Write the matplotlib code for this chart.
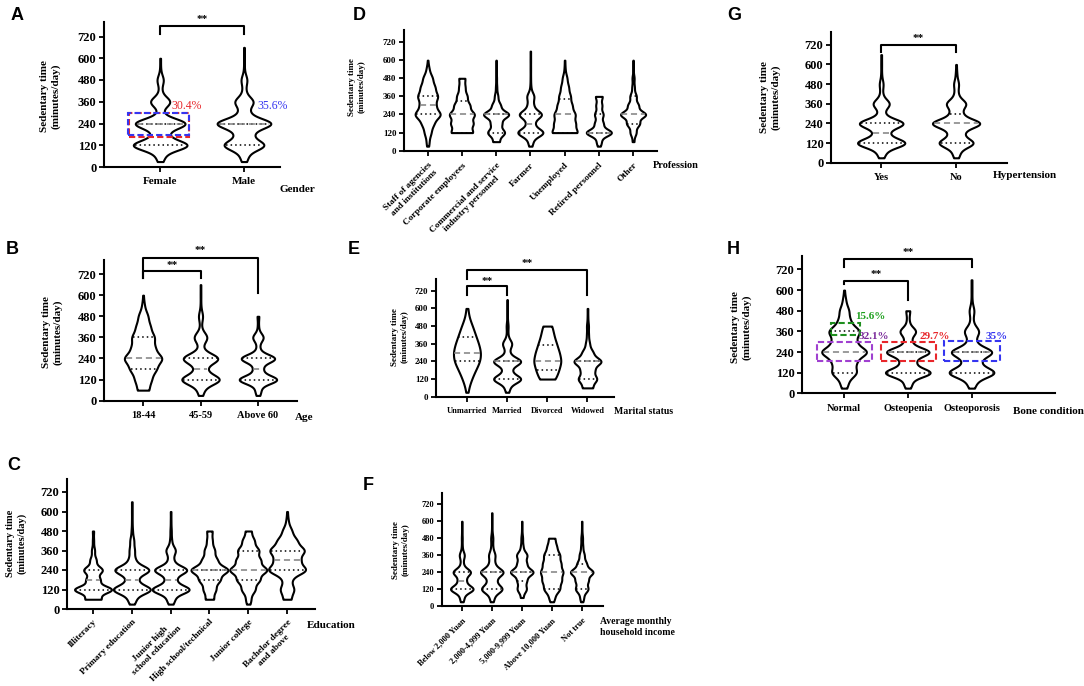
import matplotlib
matplotlib.use("Agg")
import matplotlib.pyplot as plt
import numpy as np
from matplotlib.patches import Rectangle

plt.rcParams['font.family'] = ['Liberation Serif', 'DejaVu Serif']
plt.rcParams['font.weight'] = 'bold'

W, H = 1084, 686

# sedentary-time answers (minutes/day) and how many people gave each one
VALS = [30, 60, 120, 180, 240, 300, 360, 420, 480, 540, 600, 660]
YTICKS = [0, 120, 240, 360, 480, 600, 720]

gender_cats = ['Female', 'Male']
gender_counts = [[3, 8, 70, 15, 65, 4, 25, 3, 8, 1, 1, 0],
                 [3, 8, 55, 20, 75, 12, 25, 4, 8, 1, 1, 1]]
gender_quart = [(120, 240, 240), (120, 240, 240)]

age_cats = ['18-44', '45-59', 'Above 60']
age_counts = [[0, 18, 25, 40, 60, 35, 35, 22, 15, 4, 1, 0],
              [3, 8, 65, 15, 60, 5, 22, 2, 7, 1, 1, 1],
              [3, 8, 65, 15, 58, 5, 18, 2, 3, 0, 0, 0]]
age_quart = [(180, 240, 360), (120, 180, 240), (120, 180, 240)]

edu_cats = ['Illiteracy', 'Primary education', 'Junior high\nschool education',
            'High school/technical', 'Junior college', 'Bachelor degree\nand above']
edu_counts = [[0, 25, 60, 22, 30, 10, 5, 2, 2, 0, 0, 0],
              [3, 10, 60, 15, 55, 10, 8, 6, 2, 1, 1, 1],
              [3, 10, 60, 15, 52, 8, 15, 3, 2, 1, 1, 0],
              [0, 12, 18, 30, 55, 22, 15, 8, 8, 0, 0, 0],
              [2, 6, 18, 30, 50, 32, 28, 16, 8, 0, 0, 0],
              [0, 10, 18, 10, 50, 32, 45, 25, 12, 3, 1, 0]]
edu_quart = [(120, 180, 240), (120, 180, 240), (120, 180, 240),
             (180, 240, 240), (180, 240, 360), (240, 300, 360)]

prof_cats = ['Staff of agencies\nand institutions', 'Corporate employees',
             'Commercial and service\nindustry personnel', 'Farmer', 'Unemployed',
             'Retired personnel', 'Other']
prof_counts = [[2, 5, 14, 25, 55, 32, 42, 30, 20, 6, 1, 0],
               [0, 0, 42, 42, 48, 30, 20, 12, 12, 0, 0, 0],
               [0, 15, 40, 25, 60, 20, 8, 3, 2, 1, 1, 0],
               [3, 8, 55, 15, 48, 12, 15, 2, 1, 1, 1, 1],
               [0, 0, 50, 40, 40, 28, 22, 15, 9, 2, 1, 0],
               [3, 10, 60, 20, 20, 14, 16, 0, 0, 0, 0, 0],
               [0, 4, 14, 30, 60, 25, 15, 6, 5, 1, 1, 0]]
prof_quart = [(240, 300, 360), (120, 240, 330), (120, 240, 240), (120, 180, 240),
              (120, 240, 345), (120, 120, 240), (180, 240, 360)]

mar_cats = ['Unmarried', 'Married', 'Divorced', 'Widowed']
mar_counts = [[1, 3, 10, 18, 28, 30, 25, 18, 12, 4, 2, 0],
              [3, 8, 60, 15, 60, 8, 20, 3, 4, 1, 1, 1],
              [0, 0, 12, 16, 20, 17, 13, 9, 7, 0, 0, 0],
              [0, 15, 28, 20, 42, 16, 6, 3, 3, 1, 1, 0]]
mar_quart = [(240, 300, 405), (120, 240, 240), (180, 240, 350), (120, 240, 240)]

inc_cats = ['Below 2,000 Yuan', '2,000-4,999 Yuan', '5,000-9,999 Yuan',
            'Above 10,000 Yuan', 'Not true']
inc_counts = [[3, 8, 55, 18, 42, 6, 12, 2, 2, 1, 1, 0],
              [3, 8, 50, 18, 55, 12, 15, 4, 5, 1, 1, 1],
              [0, 6, 22, 22, 55, 22, 25, 6, 4, 1, 1, 0],
              [2, 8, 25, 30, 35, 28, 25, 15, 10, 0, 0, 0],
              [2, 8, 30, 30, 55, 22, 12, 5, 4, 1, 1, 0]]
inc_quart = [(120, 180, 240), (120, 240, 240), (180, 240, 240),
             (120, 240, 360), (120, 240, 300)]

hyp_cats = ['Yes', 'No']
hyp_counts = [[3, 8, 65, 15, 60, 6, 22, 3, 5, 1, 1, 1],
              [3, 8, 50, 18, 70, 15, 28, 5, 7, 2, 1, 0]]
hyp_quart = [(120, 180, 240), (120, 240, 300)]

bone_cats = ['Normal', 'Osteopenia', 'Osteoporosis']
bone_counts = [[3, 8, 32, 28, 60, 28, 40, 15, 12, 4, 1, 0],
               [3, 8, 58, 17, 55, 8, 20, 3, 5, 0, 0, 0],
               [3, 8, 58, 17, 52, 8, 18, 3, 6, 1, 1, 1]]
bone_quart = [(120, 240, 360), (120, 240, 240), (120, 240, 240)]

fig = plt.figure(figsize=(W / 100, H / 100), dpi=100)


def px(l, t, r, b):
    return [l / W, 1 - b / H, (r - l) / W, (b - t) / H]


def ftext(x, y, s, **kw):
    return fig.text(x / W, 1 - y / H, s, **kw)


def panel(rect, cats, counts, quarts, xlim, width, bw, rot=False, fs=9, lfs=7.5, xpad=4):
    ax = fig.add_axes(px(*rect))
    if np.isscalar(bw):
        bw = [bw] * len(counts)
    for i, c in enumerate(counts):
        data = np.repeat(VALS, c)
        vp = ax.violinplot([data], positions=[i], widths=width, showextrema=False,
                           bw_method=bw[i], points=400)
        body = vp['bodies'][0]
        body.set_alpha(1)
        body.set_facecolor('white')
        body.set_edgecolor('black')
        body.set_linewidth(1.5)
        verts = body.get_paths()[0].vertices
        right = verts[verts[:, 0] > i + 1e-9]
        order = np.argsort(right[:, 1])
        q1, med, q3 = quarts[i]
        for q, ls, col in [(q1, (0, (1, 2)), 'black'), (q3, (0, (1, 2)), 'black'),
                           (med, (0, (4, 2.5)), '#808080')]:
            xr = np.interp(q, right[order, 1], right[order, 0]) - 0.02
            ax.plot([2 * i - xr, xr], [q, q], ls=ls, color=col, lw=1.1)
    ax.set_xlim(*xlim)
    ax.set_ylim(0, 800)
    ax.set_yticks(YTICKS)
    ax.set_xticks(range(len(cats)))
    if rot:
        ax.set_xticklabels(cats, rotation=45, ha='right', va='top',
                           rotation_mode='anchor', fontsize=lfs, multialignment='center')
    else:
        ax.set_xticklabels(cats, fontsize=lfs)
    ax.tick_params(axis='y', labelsize=fs, length=3.5, width=1.3, pad=2)
    ax.tick_params(axis='x', length=3.5, width=1.3, pad=xpad)
    for s in ['top', 'right']:
        ax.spines[s].set_visible(False)
    for s in ['left', 'bottom']:
        ax.spines[s].set_linewidth(1.5)
    return ax


def bracket(ax, x0, x1, y, y0, y1, ystar):
    ax.plot([x0, x0, x1, x1], [y0, y, y, y1], color='black', lw=1.5, clip_on=False)
    ax.text((x0 + x1) / 2, ystar, '**', ha='center', va='center', fontsize=8)


def ylab(x, y, fs=8):
    ftext(x, y, 'Sedentary time\n(minutes/day)', rotation=90, ha='center', va='center',
          fontsize=fs, multialignment='center')


def letter(x, y, s):
    ftext(x, y, s, ha='center', va='center', fontsize=13, family='Liberation Sans',
          weight='bold')


# A
axA = panel((104, 22, 280, 167), gender_cats, gender_counts, gender_quart,
            (-0.67, 1.43), 0.64, 0.25, lfs=8)
bracket(axA, 0, 1, 776, 736, 736, 815)
for x0, x1, y0, y1, col in [(-0.37, 0.35, 164, 296, '#e8262b'), (-0.38, 0.35, 176, 296, '#3535f0')]:
    axA.add_patch(Rectangle((x0, y0), x1 - x0, y1 - y0, fill=False, ec=col, lw=1.5,
                            ls=(0, (3, 1.5)), clip_on=False))
axA.text(0.13, 336, '30.4%', color='#e8262b', fontsize=8.5, weight='normal', va='center')
axA.text(1.16, 336, '35.6%', color='#3535f0', fontsize=8.5, weight='normal', va='center')
ylab(50, 96)
letter(17, 16, 'A')
ftext(280, 190, 'Gender', fontsize=8, va='center')

# B
axB = panel((104, 260, 297, 400.7), age_cats, age_counts, age_quart,
            (-0.68, 2.68), 0.65, 0.25)
bracket(axB, 0, 1, 739, 696, 696, 768)
bracket(axB, 0, 2, 810, 696, 614, 853)
ylab(52, 332)
letter(12, 249, 'B')
ftext(295, 418, 'Age', fontsize=8, va='center')

# C
axC = panel((67, 479, 315, 609), edu_cats, edu_counts, edu_quart,
            (-0.67, 5.72), 0.95, 0.25, rot=True, lfs=6.7, xpad=3)
ylab(16, 543, fs=7.5)
letter(14, 466, 'C')
ftext(307, 626, 'Education', fontsize=8, va='center')

# D
axD = panel((404, 30, 656.7, 150.7), prof_cats, prof_counts, prof_quart,
            (-0.69, 6.69), 0.73, 0.25, rot=True, fs=6.5, lfs=6.7)
ylab(357, 87, fs=6.5)
letter(359, 16, 'D')
ftext(653, 165, 'Profession', fontsize=7.5, va='center')

# E
axE = panel((436, 279, 614, 396.7), mar_cats, mar_counts, mar_quart,
            (-0.77, 3.66), 0.67, [0.35, 0.25, 0.35, 0.25], fs=6.5, lfs=6)
bracket(axE, 0, 1, 750, 689, 689, 784)
bracket(axE, 0, 3, 864, 803, 689, 904)
ylab(400, 337, fs=6.5)
letter(354, 249, 'E')
ftext(614, 412, 'Marital status', fontsize=7, va='center')

# F
axF = panel((441.7, 493, 602.7, 606), inc_cats, inc_counts, inc_quart,
            (-0.67, 4.7), 0.75, 0.25, rot=True, fs=6, lfs=6)
ylab(401, 550, fs=6.5)
letter(368, 485, 'F')
ftext(600, 627, 'Average monthly\nhousehold income', fontsize=7, va='center')

# G
axG = panel((831, 31.7, 1007, 162.7), hyp_cats, hyp_counts, hyp_quart,
            (-0.67, 1.68), 0.63, 0.25)
bracket(axG, 0, 1, 721, 676, 676, 761)
ylab(770, 97)
letter(734, 16, 'G')
ftext(993, 176, 'Hypertension', fontsize=8, va='center')

# H
axH = panel((802, 255.7, 1055, 393.3), bone_cats, bone_counts, bone_quart,
            (-0.66, 3.31), 0.7, 0.25)
bracket(axH, 0, 1, 651, 637, 545, 690)
bracket(axH, 0, 2, 783, 734, 734, 817)
for x0, x1, y0, y1, col in [(-0.2, 0.25, 338, 409, '#1e8f1e'), (-0.42, 0.44, 188, 298, '#a040d0'),
                            (0.58, 1.45, 188, 298, '#e8262b'), (1.57, 2.44, 190, 305, '#3535f0')]:
    axH.add_patch(Rectangle((x0, y0), x1 - x0, y1 - y0, fill=False, ec=col, lw=1.5,
                            ls=(0, (3, 1.5)), clip_on=False))
axH.text(0.17, 444, '15.6%', color='#1ea01e', fontsize=8, va='center')
axH.text(0.23, 332, '32.1%', color='#7a2a9a', fontsize=8, va='center')
axH.text(1.18, 332, '29.7%', color='#e8262b', fontsize=8, va='center')
axH.text(2.22, 332, '35%', color='#3535f0', fontsize=8, va='center')
ylab(741, 327)
letter(733, 249, 'H')
ftext(1013, 411, 'Bone condition', fontsize=8, va='center')

fig.savefig('out.png', dpi=100)
